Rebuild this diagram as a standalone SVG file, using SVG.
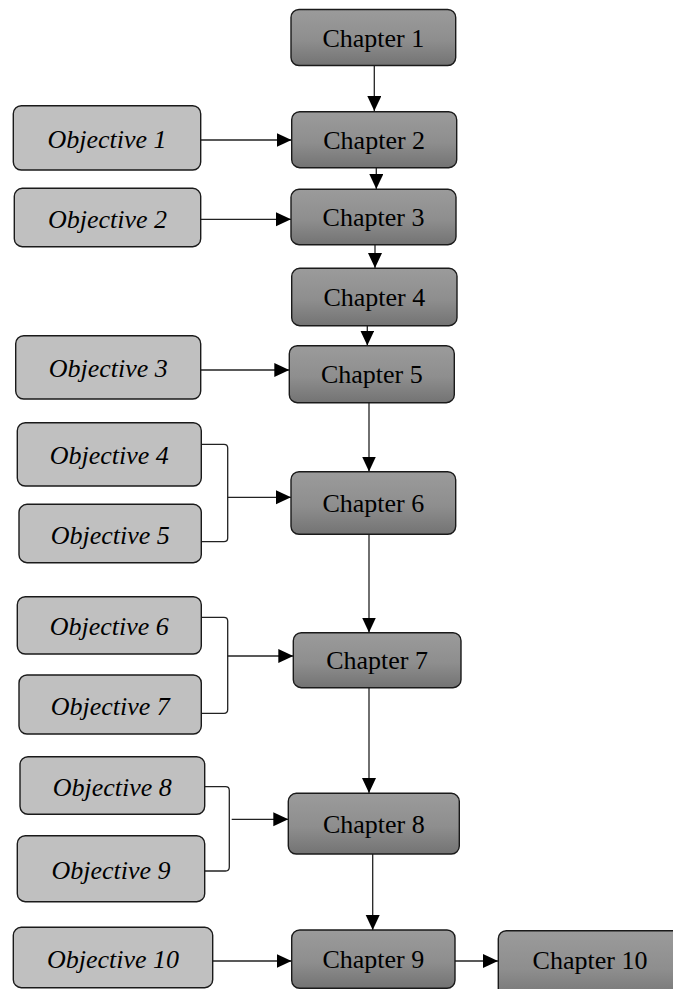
<svg xmlns="http://www.w3.org/2000/svg" width="673" height="989" viewBox="0 0 673 989">
<defs>
<linearGradient id="chg" x1="0" y1="0" x2="0" y2="1">
<stop offset="0" stop-color="#9b9b9b"/>
<stop offset="0.55" stop-color="#8e8e8e"/>
<stop offset="1" stop-color="#737373"/>
</linearGradient>
<marker id="arr" markerUnits="userSpaceOnUse" markerWidth="16" markerHeight="16" refX="15" refY="7" orient="auto" viewBox="0 0 16 16">
<path d="M0,0 L15,7 L0,14 Z" fill="#000"/>
</marker>
<style>
.ch rect{fill:url(#chg);stroke:#1a1a1a;stroke-width:1.4}
.ob rect{fill:#c0c0c0;stroke:#1a1a1a;stroke-width:1.4}
text{font-family:'Liberation Serif','Times New Roman',Times,serif;font-size:26px;fill:#000;text-anchor:middle}
.ob text{font-style:italic}
.cn path{fill:none;stroke:#222;stroke-width:1.3}
.cn .a{marker-end:url(#arr)}
</style>
</defs>
<rect width="673" height="989" fill="#fff"/>
<g id="connectors" class="cn">
<path class="a" d="M374.3,66 V111"/>
<path class="a" d="M376.3,168 V189"/>
<path class="a" d="M375,245 V268"/>
<path class="a" d="M367.3,326 V345.5"/>
<path class="a" d="M369,403 V471.5"/>
<path class="a" d="M369,534.5 V632.5"/>
<path class="a" d="M369,688 V793"/>
<path class="a" d="M372.7,854 V930"/>
<path class="a" d="M455,961 H498"/>
<path class="a" d="M200.7,140 H291.5"/>
<path class="a" d="M200.7,219.3 H291"/>
<path class="a" d="M200.7,370 H289.3"/>
<path d="M201.3,444.3 H224 Q227.7,444.3 227.7,448 V538 Q227.7,541.7 224,541.7 H201.3"/>
<path class="a" d="M227.7,497.3 H291"/>
<path d="M201.3,617.3 H224 Q227.7,617.3 227.7,621 V709.5 Q227.7,713.3 224,713.3 H201.3"/>
<path class="a" d="M227.7,656 H293.3"/>
<path d="M204.7,786.7 H225.5 Q229.3,786.7 229.3,790.5 V867 Q229.3,871 225.5,871 H204.7"/>
<path class="a" d="M231.7,819.3 H288.3"/>
<path class="a" d="M212.7,961 H291.5"/>
</g>
<g id="chapter1" class="ch"><rect x="291" y="9.5" width="164.7" height="56" rx="8"/><text x="373.3" y="46.5" font-family="Liberation Serif">Chapter 1</text></g>
<g id="chapter2" class="ch"><rect x="291.7" y="111.7" width="165" height="56" rx="8"/><text x="374.2" y="148.7">Chapter 2</text></g>
<g id="chapter3" class="ch"><rect x="291" y="189.3" width="165" height="55.4" rx="8"/><text x="373.5" y="226">Chapter 3</text></g>
<g id="chapter4" class="ch"><rect x="291.7" y="268.3" width="165.3" height="57.4" rx="8"/><text x="374.3" y="306">Chapter 4</text></g>
<g id="chapter5" class="ch"><rect x="289.3" y="345.7" width="165" height="57" rx="8"/><text x="371.8" y="383.2">Chapter 5</text></g>
<g id="chapter6" class="ch"><rect x="291" y="471.7" width="164.7" height="62.6" rx="8"/><text x="373.3" y="511.8">Chapter 6</text></g>
<g id="chapter7" class="ch"><rect x="293.3" y="632.7" width="167.7" height="55" rx="8"/><text x="377.1" y="669.2">Chapter 7</text></g>
<g id="chapter8" class="ch"><rect x="288.3" y="793.3" width="171" height="60.7" rx="8"/><text x="373.8" y="832.7">Chapter 8</text></g>
<g id="chapter9" class="ch"><rect x="291.7" y="930" width="163.3" height="58.3" rx="8"/><text x="373.3" y="968.2">Chapter 9</text></g>
<g id="chapter10" class="ch"><rect x="498.3" y="930.7" width="190" height="70" rx="8"/><text x="590" y="969">Chapter 10</text></g>
<g id="objective1" class="ob"><rect x="13.3" y="105.7" width="187.4" height="64.3" rx="8"/><text x="107" y="148">Objective 1</text></g>
<g id="objective2" class="ob"><rect x="14.3" y="188.3" width="186.4" height="58.4" rx="8"/><text x="107.5" y="227.5">Objective 2</text></g>
<g id="objective3" class="ob"><rect x="15.7" y="335.7" width="185" height="63.3" rx="8"/><text x="108.2" y="377.3">Objective 3</text></g>
<g id="objective4" class="ob"><rect x="17.3" y="422.7" width="184" height="63.3" rx="8"/><text x="109.3" y="464.3">Objective 4</text></g>
<g id="objective5" class="ob"><rect x="19" y="504.3" width="182.3" height="58.4" rx="8"/><text x="110.2" y="543.5">Objective 5</text></g>
<g id="objective6" class="ob"><rect x="17.3" y="596.7" width="184" height="57.3" rx="8"/><text x="109.3" y="635.3">Objective 6</text></g>
<g id="objective7" class="ob"><rect x="19" y="675" width="182.3" height="59" rx="8"/><text x="110.2" y="714.5">Objective 7</text></g>
<g id="objective8" class="ob"><rect x="20" y="756.7" width="184.7" height="57.6" rx="8"/><text x="112.3" y="795.5">Objective 8</text></g>
<g id="objective9" class="ob"><rect x="17.3" y="835.7" width="187.4" height="66" rx="8"/><text x="111" y="878.7">Objective 9</text></g>
<g id="objective10" class="ob"><rect x="13.3" y="927.3" width="199.4" height="60.4" rx="8"/><text x="113" y="967.5">Objective 10</text></g>
</svg>
